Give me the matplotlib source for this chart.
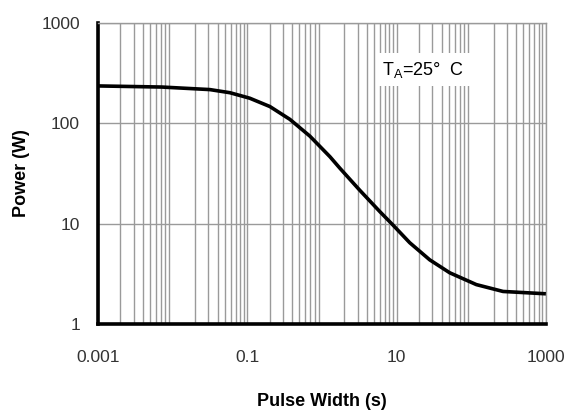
import numpy as np
import matplotlib
matplotlib.use("Agg")
import matplotlib.pyplot as plt
from matplotlib.ticker import LogLocator, FixedLocator, NullFormatter

plt.rcParams['font.family'] = ['Liberation Sans', 'DejaVu Sans']
plt.rcParams['mathtext.fontset'] = 'custom'
plt.rcParams['mathtext.rm'] = 'Liberation Sans'

# Single-pulse power capability vs pulse width
pulse_width = [0.001, 0.0072, 0.0315, 0.0585, 0.108, 0.201, 0.372, 0.689,
               1.28, 1.74, 3.2, 5.96, 8.98, 15, 27.8, 51.5, 117, 267, 1000]
power = [236, 230, 217, 202, 178, 147, 109.6, 74.6,
         46.5, 35.7, 21.6, 13.2, 9.66, 6.46, 4.36, 3.24, 2.47, 2.11, 2.0]

x_ticks = [0.001, 0.1, 10, 1000]
x_tick_labels = ["0.001", "0.1", "10", "1000"]
y_ticks = [1, 10, 100, 1000]
y_tick_labels = ["1", "10", "100", "1000"]

fig = plt.figure(figsize=(5.71, 4.11), dpi=100)
ax = fig.add_axes([0.1716, 0.2117, 0.7844, 0.7323])

ax.set_xscale('log')
ax.set_yscale('log')
ax.set_xlim(0.001, 1000)
ax.set_ylim(1, 1000)

ax.plot(pulse_width, power, color='black', lw=2.6, zorder=3,
        solid_joinstyle='round', solid_capstyle='butt')

# vertical grid on every decade subdivision, horizontal grid only on decades
ax.xaxis.set_major_locator(LogLocator(base=10, numticks=20))
ax.xaxis.set_minor_locator(LogLocator(base=10, subs=np.arange(2, 10), numticks=20))
ax.grid(True, which='major', axis='x', color='#9a9a9a', lw=1.0)
ax.grid(True, which='minor', axis='x', color='#9a9a9a', lw=1.0)
ax.yaxis.set_major_locator(FixedLocator(y_ticks))
ax.yaxis.set_minor_locator(FixedLocator([]))
ax.grid(True, which='major', axis='y', color='#9a9a9a', lw=1.0)
ax.set_axisbelow(True)

ax.set_xticks(x_ticks)
ax.set_xticklabels(x_tick_labels)
ax.xaxis.set_minor_formatter(NullFormatter())
ax.set_yticks(y_ticks)
ax.set_yticklabels(y_tick_labels)
ax.tick_params(which='both', length=0, labelsize=12.5, colors='#333333')
ax.tick_params(axis='x', pad=19)
ax.tick_params(axis='y', pad=13)

for side in ['left', 'bottom']:
    ax.spines[side].set_color('black')
    ax.spines[side].set_linewidth(2.6)
for side in ['top', 'right']:
    ax.spines[side].set_color('#9a9a9a')
    ax.spines[side].set_linewidth(1.0)

ax.set_xlabel('Pulse Width (s)', fontsize=13, fontweight='bold', labelpad=20)
ax.set_ylabel('Power (W)', fontsize=13, fontweight='bold', labelpad=8)

ax.text(0.635, 0.845, r'T$_\mathrm{A}$=25°  C', transform=ax.transAxes, fontsize=13,
        ha='left', va='center', zorder=4,
        bbox=dict(facecolor='white', edgecolor='none', boxstyle='square,pad=0.35'))

fig.savefig('out.png', dpi=100)
